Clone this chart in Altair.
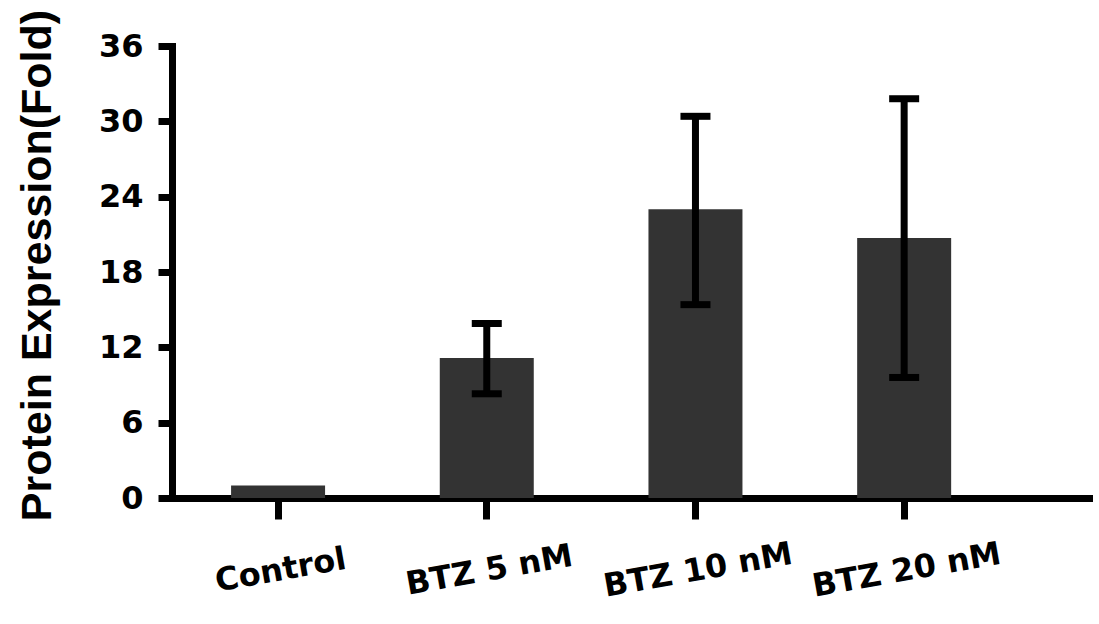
import altair as alt
import pandas as pd

categories = ["Control", "BTZ 5 nM", "BTZ 10 nM", "BTZ 20 nM"]
means = [1.0, 11.15, 23.0, 20.7]
err_low = [None, 8.3, 15.4, 9.6]
err_high = [None, 13.9, 30.4, 31.8]
y_ticks = [0, 6, 12, 18, 24, 30, 36]

df = pd.DataFrame({"group": categories, "mean": means})
edf = pd.DataFrame({"group": categories, "lo": err_low, "hi": err_high}).dropna()

x_scale = alt.Scale(domain=categories, paddingInner=0.5496, paddingOuter=0.4718, align=0.30)
y_scale = alt.Scale(domain=[0, 36], nice=False, zero=True)

x_axis = alt.Axis(
    title=None, labelAngle=350, labelAlign="center", labelBaseline="top", labelLimit=0,
    labelFont="DejaVu Sans", labelFontWeight="bold", labelFontSize=32, labelColor="black",
    labelPadding=36, tickSize=21, tickWidth=7, tickColor="black",
    domainWidth=7, domainColor="black", domainCap="square", grid=False,
)
y_axis = alt.Axis(
    title="Protein Expression(Fold)", values=y_ticks, labelLimit=0,
    labelFont="DejaVu Sans", labelFontWeight="bold", labelFontSize=32, labelColor="black",
    labelPadding=15, tickSize=14, tickWidth=7, tickColor="black",
    domainWidth=7, domainColor="black", domainCap="square", grid=False,
    titleFont="Liberation Sans", titleFontWeight="bold", titleFontSize=43, titleColor="black",
    titleAngle=270, titleAlign="center", titleBaseline="middle", titleX=-135, titleY=219,
)

bars = alt.Chart(df).mark_bar(color="#333333").encode(
    x=alt.X("group:N", scale=x_scale, axis=x_axis, sort=categories),
    y=alt.Y("mean:Q", scale=y_scale, axis=y_axis),
)

stems = alt.Chart(edf).mark_rule(color="black", strokeWidth=7).encode(
    x=alt.X("group:N", scale=x_scale, sort=categories),
    y=alt.Y("lo:Q", scale=y_scale),
    y2="hi:Q",
)
caps_hi = alt.Chart(edf).mark_tick(color="black", size=30, thickness=7, opacity=1).encode(
    x=alt.X("group:N", scale=x_scale, sort=categories),
    y=alt.Y("hi:Q", scale=y_scale),
)
caps_lo = alt.Chart(edf).mark_tick(color="black", size=30, thickness=7, opacity=1).encode(
    x=alt.X("group:N", scale=x_scale, sort=categories),
    y=alt.Y("lo:Q", scale=y_scale),
)

chart = alt.layer(bars, stems, caps_hi, caps_lo).properties(
    width=917, height=452,
    autosize=alt.AutoSizeParams(type="none"),
    padding={"left": 172, "top": 46, "right": 10, "bottom": 126},
    background="white",
).configure_view(stroke=None)

chart.save("out.html", embed_options={"renderer": "svg", "actions": False})
